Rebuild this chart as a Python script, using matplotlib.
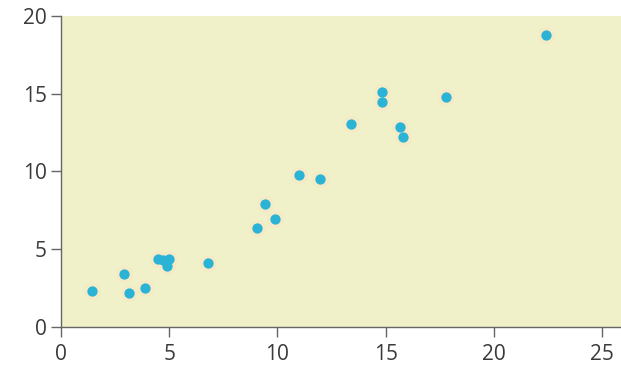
import matplotlib
matplotlib.use('Agg')
import matplotlib.pyplot as plt

# data
x = [1.43, 2.91, 3.14, 3.88, 4.48, 4.72, 4.98, 4.9, 6.79, 9.06, 9.43, 9.89,
     11.0, 11.97, 13.4, 14.83, 14.83, 15.67, 15.8, 17.79, 22.41]
y = [2.32, 3.41, 2.19, 2.51, 4.37, 4.3, 4.4, 3.9, 4.1, 6.37, 7.9, 6.95,
     9.77, 9.5, 13.05, 15.1, 14.47, 12.86, 12.2, 14.8, 18.78]
xticks = [0, 5, 10, 15, 20, 25]
yticks = [0, 5, 10, 15, 20]

plt.rcParams['font.family'] = ['Open Sans', 'DejaVu Sans']

fig = plt.figure(figsize=(6.21, 3.72), dpi=100)
ax = fig.add_axes([0.0982, 0.121, 0.9018, 0.836])
ax.set_facecolor('#f0f0c9')

# faint halo then the dot
ax.scatter(x, y, s=150, color='#f7e9c4', alpha=0.6, linewidths=0, zorder=2)
ax.scatter(x, y, s=55, color='#2bb3d6', linewidths=0, zorder=3)

ax.set_xlim(0, 25.88)
ax.set_ylim(0, 20)
ax.set_xticks(xticks)
ax.set_yticks(yticks)

for s in ['top', 'right']:
    ax.spines[s].set_visible(False)
for s in ['left', 'bottom']:
    ax.spines[s].set_color('#666666')
    ax.spines[s].set_linewidth(1.0)

ax.tick_params(axis='both', colors='#666666', length=7, width=1,
               labelsize=15, labelcolor='#3a3a3a')
ax.tick_params(axis='x', pad=5)
ax.tick_params(axis='y', pad=3)

fig.savefig('out.png', dpi=100)
